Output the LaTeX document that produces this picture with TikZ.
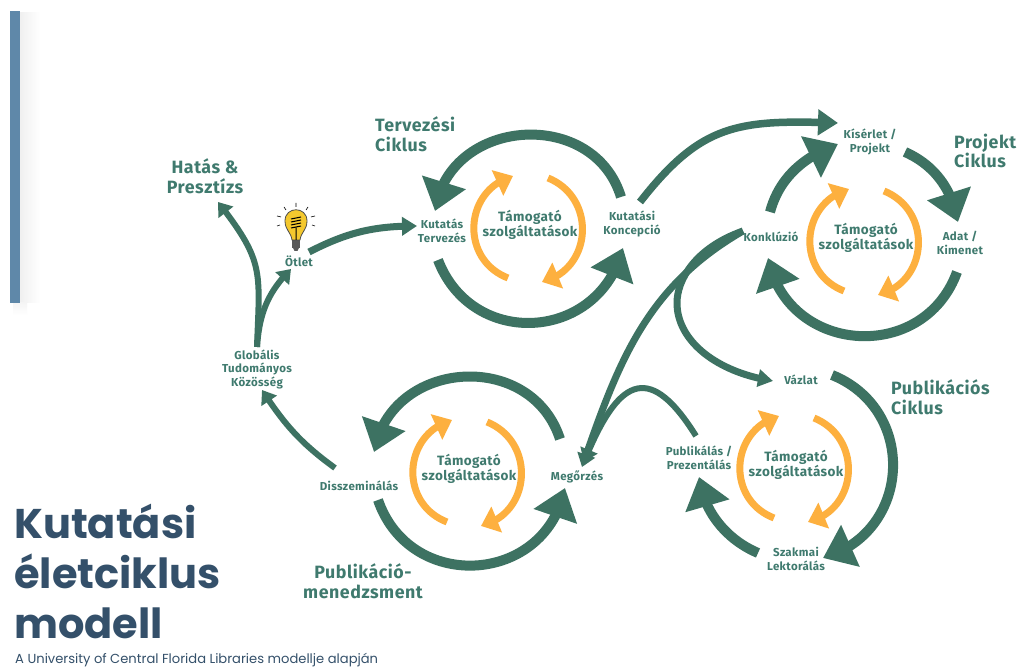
\documentclass[tikz,border=0pt]{standalone}
\usepackage{fontspec}
\setmainfont{Poppins}
\newfontfamily\dinfont[LetterSpace=3]{Fira Sans}
\usetikzlibrary{arrows.meta,bending}
\definecolor{cyclegreen}{HTML}{3D7262}
\definecolor{labelgreen}{HTML}{3F7A6E}
\definecolor{supportorange}{HTML}{FDB03F}
\definecolor{titleblue}{HTML}{34506A}
\definecolor{barblue}{HTML}{5F88A9}
\definecolor{bulbyellow}{HTML}{F4C82E}
\tikzset{
  stage/.style={font=\dinfont\bfseries\fontsize{11.5}{13.5}\selectfont,text=labelgreen,align=center,inner sep=0pt},
  support/.style={font=\dinfont\bfseries\fontsize{13.5}{15}\selectfont,text=labelgreen,align=center,inner sep=0pt},
  cyclename/.style={font=\dinfont\bfseries\fontsize{17.8}{19.5}\selectfont,text=labelgreen,inner sep=0pt},
  bigarc/.style={draw=cyclegreen,line width=10pt,-{Triangle[length=30pt,width=44pt,flex]},cyclegreen},
  midarc/.style={draw=cyclegreen,line width=7.5pt,-{Triangle[length=20pt,width=25pt,flex]},cyclegreen},
  thinarc/.style={draw=cyclegreen,line width=6pt,-{Triangle[length=13pt,width=18pt,flex]},cyclegreen},
  supportarc/.style={draw=supportorange,line width=7pt,-{Triangle[length=17pt,width=27pt,flex]},supportorange},
}
\begin{document}
\begin{tikzpicture}[x=1pt,y=1pt]
  \useasboundingbox (0,0) rectangle (1022,668);
  \fill[white] (0,0) rectangle (1022,668);

  % Side bar with its soft shadow
  \shade[left color=black!6,right color=white] (20,365) rectangle (40,655);
  \shade[top color=black!4,bottom color=white] (13,365) rectangle (27,353);
  \fill[barblue] (10,365) rectangle (20,657);

  % Title
  \node[font=\bfseries\fontsize{41.5}{50}\selectfont,text=titleblue,align=left,anchor=west,inner sep=0pt] (title) at (14,97) {Kutatási\\életciklus\\modell};
  \node[font=\fontsize{13.1}{15}\selectfont,text=titleblue,anchor=west,inner sep=0pt] (subtitle) at (15,8) {A University of Central Florida Libraries modellje alapján};

  % Stages
  \node[stage] (terv) at (442,437) {Kutatás\\Tervezés};
  \node[stage] (koncepcio) at (632,444) {Kutatási\\Koncepció};
  \node[stage] (kiserlet) at (870,526) {Kísérlet /\\Projekt};
  \node[stage] (adat) at (960,425) {Adat /\\Kimenet};
  \node[stage] (konkluzio) at (771,431) {Konklúzió};
  \node[stage] (vazlat) at (801,288) {Vázlat};
  \node[stage] (szakmai) at (796,109) {Szakmai\\Lektorálás};
  \node[stage] (publikalas) at (699,210) {Publikálás /\\Prezentálás};
  \node[stage] (megorzes) at (577,191) {Megőrzés};
  \node[stage] (disszem) at (359,182) {Disszeminálás};
  \node[stage] (globalis) at (257,299) {Globális\\Tudományos\\Közösség};
  \node[stage] (otlet) at (299,407) {Ötlet};

  % Support services
  \node[support] (suptop) at (530,443) {Támogató\\szolgáltatások};
  \node[support] (supproj) at (866,430) {Támogató\\szolgáltatások};
  \node[support] (supmen) at (469,199) {Támogató\\szolgáltatások};
  \node[support] (suppub) at (796,203) {Támogató\\szolgáltatások};

  % Cycle names
  \node[cyclename,align=center] (hatas) at (205,492) {Hatás \&\\Presztízs};
  \node[cyclename,align=left,anchor=west] (tervname) at (375,534) {Tervezési\\Ciklus};
  \node[cyclename,align=left,anchor=west] (projname) at (954,517) {Projekt\\Ciklus};
  \node[cyclename,align=left,anchor=west] (pubname) at (891,271) {Publikációs\\Ciklus};
  \node[cyclename,align=center] (menname) at (363,87) {Publikáció-\\menedzsment};

  % Support arrows
  \draw[supportarc] ([shift={(-22,-53)}]suptop.center) to[out=159,in=196,looseness=1.29] ([shift={(-17,49)}]suptop.center);
  \draw[supportarc] ([shift={(18,47)}]suptop.center) to[out=-22,in=14,looseness=1.29] ([shift={(12,-57)}]suptop.center);
  \draw[supportarc] ([shift={(-22,-53)}]supproj.center) to[out=159,in=196,looseness=1.29] ([shift={(-17,49)}]supproj.center);
  \draw[supportarc] ([shift={(18,47)}]supproj.center) to[out=-22,in=14,looseness=1.29] ([shift={(12,-57)}]supproj.center);
  \draw[supportarc] ([shift={(-22,-53)}]supmen.center) to[out=159,in=196,looseness=1.29] ([shift={(-17,49)}]supmen.center);
  \draw[supportarc] ([shift={(18,47)}]supmen.center) to[out=-22,in=14,looseness=1.29] ([shift={(12,-57)}]supmen.center);
  \draw[supportarc] ([shift={(-22,-53)}]suppub.center) to[out=159,in=196,looseness=1.29] ([shift={(-17,49)}]suppub.center);
  \draw[supportarc] ([shift={(18,47)}]suppub.center) to[out=-22,in=14,looseness=1.29] ([shift={(12,-57)}]suppub.center);

  % Planning cycle
  \draw[bigarc] ([shift={(-11,27)}]koncepcio.center) to[out=107,in=82,looseness=1.3] ([shift={(-7,20)}]terv.center);
  \draw[bigarc] ([shift={(-4,-29)}]terv.center) to[out=291,in=256,looseness=1.33] ([shift={(-9,-24)}]koncepcio.center);
  \draw[midarc] ([shift={(8,22)}]koncepcio.center) to[out=52,in=178,looseness=1.2] ([shift={(-32,19)}]kiserlet.center);

  % Project cycle
  \draw[bigarc] ([shift={(-1,25)}]konkluzio.center) to[out=75,in=200,looseness=0.95] ([shift={(-32,-2)}]kiserlet.center);
  \draw[bigarc] ([shift={(35,-10)}]kiserlet.center) to[out=-24,in=100,looseness=0.95] ([shift={(-2,21)}]adat.center);
  \draw[bigarc] ([shift={(-3,-29)}]adat.center) to[out=-110,in=281,looseness=1.33] ([shift={(-3,-21)}]konkluzio.center);

  % Links that leave the project cycle
  \draw[thinarc,line width=7pt] ([shift={(-28,6)}]konkluzio.center) to[out=210,in=71,looseness=1] ([shift={(5,10)}]megorzes.center);
  \draw[thinarc,line width=7pt,-{Triangle[length=15pt,width=17pt,flex]}] ([shift={(-28,6)}]konkluzio.center) .. controls (695,420) and (677,388) .. (677,365) .. controls (677,328) and (715,296) .. ([shift={(-28,-1)}]vazlat.center);

  % Publication cycle
  \draw[bigarc] ([shift={(31,5)}]vazlat.center) to[out=-22,in=16,looseness=1.29] ([shift={(27,1)}]szakmai.center);
  \draw[bigarc] ([shift={(-38,6)}]szakmai.center) to[out=157,in=277,looseness=0.92] ([shift={(0,-19)}]publikalas.center);
  \draw[thinarc] ([shift={(-3,22)}]publikalas.center) to[out=122,in=68,looseness=2] ([shift={(7,15)}]megorzes.center);

  % Publishing management cycle
  \draw[bigarc] ([shift={(-17,38)}]megorzes.center) to[out=108,in=80,looseness=1.3] ([shift={(15,34)}]disszem.center);
  \draw[bigarc] ([shift={(19,-14)}]disszem.center) to[out=289,in=259,looseness=1.35] ([shift={(-12,-11)}]megorzes.center);
  \draw[thinarc] ([shift={(-24,18)}]disszem.center) to[out=144,in=303,looseness=1] ([shift={(5,-21)}]globalis.center);

  % Community, idea and impact
  \draw[thinarc] ([shift={(0,22)}]globalis.center) to[out=88,in=308,looseness=1.3] ([shift={(13,-26)}]hatas.center);
  \draw[thinarc] ([shift={(0,22)}]globalis.center) to[out=86,in=225,looseness=1] ([shift={(-8,-8)}]otlet.center);
  \draw[thinarc,line width=7pt,-{Triangle[length=15pt,width=18pt,flex]}] ([shift={(10,9)}]otlet.center) to[out=27,in=180,looseness=1] ([shift={(-25,5)}]terv.center);

  % Bulb
  \fill[black!65] (292,428) rectangle (300,420);
  \fill[black!65] (293,420) -- (299,420) -- (297.5,417) -- (294.5,417) -- cycle;
  \draw[black!70,fill=bulbyellow,line width=0.8pt] (292,428) .. controls (291,436) and (285,438) .. (285,447) .. controls (285,462) and (307,462) .. (307,447) .. controls (307,438) and (301,436) .. (300,428) -- cycle;
  \draw[black,line width=1pt] (291,449) -- (301,451) (291,446) -- (301,448) (291,443) -- (301,445) (291,440) -- (301,442) (296,440) -- (296,428);
  \draw[black,line width=0.6pt] (296,461) -- (296,465) (286,458) -- (284,461) (306,458) -- (308,461) (281,451) -- (277,452) (311,451) -- (315,452) (280,443) -- (277,442) (312,443) -- (315,442);
\end{tikzpicture}
\end{document}
